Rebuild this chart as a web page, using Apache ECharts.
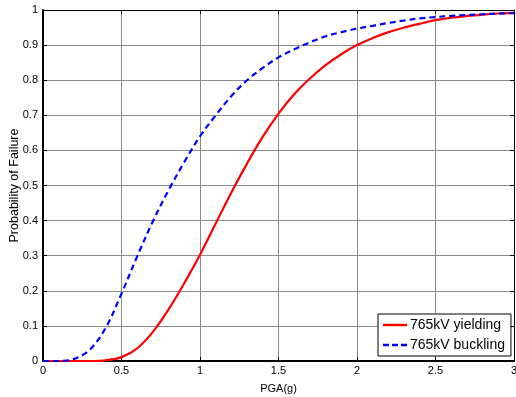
<!DOCTYPE html>
<html>
<head>
<meta charset="utf-8">
<script src="https://cdn.jsdelivr.net/npm/echarts@6/dist/echarts.min.js"></script>
<style>html,body{margin:0;padding:0;background:#fff;}#c{width:516px;height:397px;}</style>
</head>
<body>
<div id="c"></div>
<script>
var pga = [0, 0.1, 0.2, 0.3, 0.4, 0.5, 0.6, 0.7, 0.8, 0.9, 1.0, 1.1, 1.2, 1.3, 1.4, 1.5, 1.6, 1.7, 1.8, 1.9, 2.0, 2.1, 2.2, 2.3, 2.4, 2.5, 2.6, 2.7, 2.8, 2.9, 3.0];
var yielding = [0, 0, 0, 0, 0.002, 0.011, 0.036, 0.083, 0.147, 0.222, 0.303, 0.392, 0.48, 0.563, 0.639, 0.705, 0.76, 0.805, 0.843, 0.874, 0.90, 0.92, 0.937, 0.95, 0.961, 0.971, 0.978, 0.983, 0.987, 0.99, 0.992];
var buckling = [0, 0, 0.006, 0.033, 0.095, 0.192, 0.298, 0.398, 0.487, 0.567, 0.64, 0.70, 0.755, 0.80, 0.835, 0.865, 0.888, 0.908, 0.925, 0.937, 0.947, 0.955, 0.963, 0.97, 0.976, 0.98, 0.983, 0.986, 0.988, 0.99, 0.991];
var seriesNames = ['765kV yielding', '765kV buckling'];
var xTicks = {min: 0, max: 3, step: 0.5};
var yTicks = {min: 0, max: 1, step: 0.1};

function pairs(xs, ys) { return xs.map(function (x, i) { return [x, ys[i]]; }); }

var chart = echarts.init(document.getElementById('c'), null, {renderer: 'canvas'});
var font = 'Arial, "Liberation Sans", sans-serif';
var gridLine = {show: true, lineStyle: {color: '#8a8a8a', width: 1}};
chart.setOption({
  animation: false,
  backgroundColor: '#fff',
  grid: {left: 43, top: 10, right: 2, bottom: 36, containLabel: false, outerBoundsMode: 'none'},
  legend: {
    orient: 'vertical', left: 378, top: 314,
    padding: [4, 6, 4, 5], itemGap: 6, itemWidth: 24, itemHeight: 14,
    backgroundColor: '#fff', borderColor: '#000', borderWidth: 1, borderRadius: 0,
    textStyle: {fontFamily: font, fontSize: 14, color: '#000', padding: [0, 0, 0, -2]},
    data: [
      {name: seriesNames[0], icon: 'path://M0,0h24v2.4h-24z', itemStyle: {color: '#ff0000'}},
      {name: seriesNames[1], icon: 'path://M0,0h6v2.4h-6z M9,0h6v2.4h-6z M18,0h6v2.4h-6z', itemStyle: {color: '#0000ff'}}
    ]
  },
  xAxis: [{
    type: 'value', min: xTicks.min, max: xTicks.max, interval: xTicks.step,
    name: 'PGA(g)', nameLocation: 'middle', nameGap: 22, nameMoveOverlap: false,
    nameTextStyle: {fontFamily: font, fontSize: 11, color: '#000'},
    axisLine: {show: true, onZero: false, lineStyle: {color: '#000', width: 2}},
    axisTick: {show: true, inside: true, length: 4, lineStyle: {color: '#000'}},
    axisLabel: {fontFamily: font, fontSize: 11, color: '#000', margin: 4},
    splitLine: gridLine
  }, {
    type: 'value', position: 'top', min: xTicks.min, max: xTicks.max, interval: xTicks.step,
    axisLine: {show: true, onZero: false, lineStyle: {color: '#000', width: 1}},
    axisTick: {show: true, inside: true, length: 4, lineStyle: {color: '#000'}},
    axisLabel: {show: false}, splitLine: {show: false}
  }],
  yAxis: [{
    type: 'value', min: yTicks.min, max: yTicks.max, interval: yTicks.step,
    name: 'Probability of Failure', nameLocation: 'middle', nameGap: 22, nameMoveOverlap: false,
    nameTextStyle: {fontFamily: font, fontSize: 12.5, color: '#000'},
    axisLine: {show: true, onZero: false, lineStyle: {color: '#000', width: 2}},
    axisTick: {show: true, inside: true, length: 4, lineStyle: {color: '#000'}},
    axisLabel: {fontFamily: font, fontSize: 11, color: '#000', margin: 5},
    splitLine: gridLine
  }, {
    type: 'value', position: 'right', min: yTicks.min, max: yTicks.max, interval: yTicks.step,
    axisLine: {show: true, onZero: false, lineStyle: {color: '#000', width: 1}},
    axisTick: {show: true, inside: true, length: 4, lineStyle: {color: '#000'}},
    axisLabel: {show: false}, splitLine: {show: false}
  }],
  series: [{
    name: seriesNames[0], type: 'line', smooth: 0.35, showSymbol: false, symbol: 'none',
    data: pairs(pga, yielding), z: 3,
    lineStyle: {color: '#ff0000', width: 2.2, type: 'solid'},
    itemStyle: {color: '#ff0000'}
  }, {
    name: seriesNames[1], type: 'line', smooth: 0.35, showSymbol: false, symbol: 'none',
    data: pairs(pga, buckling), z: 4,
    lineStyle: {color: '#0000ff', width: 2.2, type: [6, 4]},
    itemStyle: {color: '#0000ff'}
  }]
});
</script>
</body>
</html>
